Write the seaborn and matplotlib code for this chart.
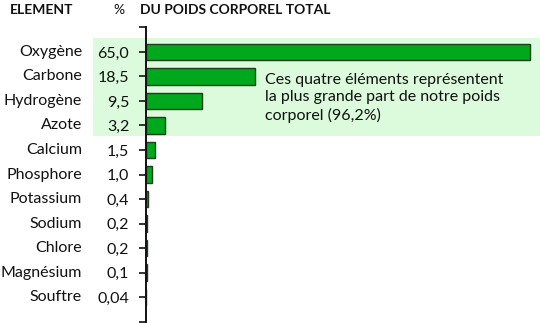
import matplotlib
matplotlib.use("Agg")
import matplotlib.pyplot as plt
import matplotlib.transforms as mtransforms
from matplotlib.patches import Rectangle
import seaborn as sns
import pandas as pd

elements = ["Oxygène", "Carbone", "Hydrogène", "Azote", "Calcium", "Phosphore",
            "Potassium", "Sodium", "Chlore", "Magnésium", "Souftre"]
values = [65.0, 18.5, 9.5, 3.2, 1.5, 1.0, 0.4, 0.2, 0.2, 0.1, 0.04]
value_labels = ["65,0", "18,5", "9,5", "3,2", "1,5", "1,0", "0,4", "0,2", "0,2", "0,1", "0,04"]

sns.set_theme(style="white")
plt.rcParams['font.family'] = ['Lato', 'DejaVu Sans']

W, H = 540, 323
fig = plt.figure(figsize=(W / 100, H / 100), dpi=100)
ax_left = 146 / W
ax_right = 1.0
ax_top = 1 - 27 / H
ax_bottom = 1 - 322 / H
ax = fig.add_axes([ax_left, ax_bottom, ax_right - ax_left, ax_top - ax_bottom])

df = pd.DataFrame({"element": elements, "value": values})
sns.barplot(data=df, x="value", y="element", orient="h", color="#00a81c",
            edgecolor="#1d3d1d", linewidth=1.0, width=0.69, saturation=1, ax=ax, zorder=3)

xmax = 65.0 * (W - 146) / (530 - 146)
ax.set_xlim(0, xmax)
ax.set_ylim(11.02, -1.02)

ax.set_yticks(list(range(-1, 12)))
ax.set_yticklabels([""] + value_labels + [""], fontsize=11.5, color="#111111")
ax.tick_params(axis="y", which="both", left=True, length=5, width=1.2, color="#111111", pad=7)
ax.tick_params(axis="x", bottom=False, labelbottom=False)
ax.set_xlabel("")
ax.set_ylabel("")
for s in ["top", "right", "bottom"]:
    ax.spines[s].set_visible(False)
ax.spines["left"].set_color("#111111")
ax.spines["left"].set_linewidth(1.4)
ax.spines["left"].set_zorder(4)

trans = mtransforms.blended_transform_factory(ax.transAxes, ax.transData)
ax_w_px = W - 146
for i, name in enumerate(elements):
    ax.text((82 - 146) / ax_w_px, i, name, transform=trans, ha="right", va="center",
            fontsize=11.5, color="#111111")

# highlight box
x0 = (93 - 146) / ax_w_px
y0 = (38.5 - 52) / 24.5
y1 = (136 - 52) / 24.5
ax.add_patch(Rectangle((x0, y0), 1 - x0, y1 - y0, transform=trans, facecolor="#dcfadc",
                       edgecolor="none", clip_on=False, zorder=0))

ax.text((265 - 146) / ax_w_px, (98 - 52) / 24.5,
        "Ces quatre éléments représentent\nla plus grande part de notre poids\ncorporel (96,2%)",
        transform=trans, ha="left", va="center", fontsize=11.5, color="#111111",
        linespacing=1.3, zorder=5)

fig.text(10 / W, 1 - 10 / H, "ELEMENT", ha="left", va="center", fontsize=10, fontweight="bold", color="#111111")
fig.text(113 / W, 1 - 10 / H, "%", ha="left", va="center", fontsize=10, color="#111111")
fig.text(140 / W, 1 - 10 / H, "DU POIDS CORPOREL TOTAL", ha="left", va="center", fontsize=10, fontweight="bold", color="#111111")

fig.savefig("out.png", dpi=100)
